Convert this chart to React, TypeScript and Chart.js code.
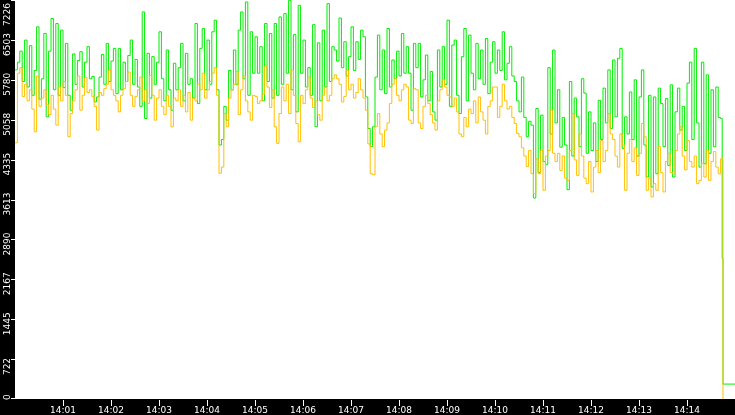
import { useEffect, useRef } from "react"
import { Chart, registerables } from "chart.js"

Chart.register(...registerables)

// one sample every 3 seconds starting at 14:00:00
const SAMPLE_SECONDS = 3

const greenValues = [
  5960, 6100, 6300, 5750, 6500, 5650, 6400, 5500, 5950, 6740, 5430, 5800, 6620, 5110, 6300, 6890, 5600,
  6800, 5500, 6680, 5640, 6440, 5500, 5230, 6250, 5700, 6130, 6290, 5650, 6100, 6380, 5800, 5840, 5380,
  5470, 5830, 6240, 5700, 6440, 5750, 6120, 6350, 5530, 6350, 5600, 6100, 5750, 6220, 6500, 5700, 6150,
  5650, 5300, 7010, 5080, 6260, 5450, 6200, 5700, 6100, 6650, 5800, 5400, 6320, 5600, 5230, 6080,
  5600, 6000, 6440, 5400, 6260, 5700, 5800, 5450, 6800, 5350, 6350, 6710, 5600, 6500, 5700, 6650, 6860,
  5600, 4600, 4700, 5300, 5050, 5950, 5600, 6320, 5700, 6680, 7010, 5800, 7190, 5500, 6650, 5900,
  6560, 5900, 6380, 5400, 6800, 5750, 6620, 5450, 6800, 5500, 6920, 5700, 6980, 5900, 7220, 5600, 6600,
  5200, 7130, 5900, 6500, 5650, 6000, 5500, 6780, 4930, 6450, 5400, 6680, 5650, 7160, 5750, 6380, 6320,
  6120, 6900, 6000, 6470, 5850, 6200, 6740, 5950, 6470, 6150, 6680, 6560, 5470, 4900, 4570, 4930, 5830,
  6590, 5600, 6320, 5530, 6710, 5650, 6140, 5800, 6300, 5850, 6620, 5900, 6380, 5900, 5230, 6440,
  6000, 6440, 5470, 5780, 6230, 5400, 5930, 5200, 5050, 6320, 5650, 6380, 5700, 6860, 5300, 6410, 6500,
  5500, 5170, 6200, 6710, 5400, 6590, 5900, 5600, 6440, 5800, 6320, 5700, 6530, 5530, 6100, 6470,
  5900, 6320, 5950, 6650, 5780, 6080, 6380, 5850, 5750, 5400, 5200, 5830, 5100, 4750, 5030, 4960, 3640,
  5260, 4100, 5140, 4300, 4250, 6000, 4800, 6320, 5000, 5600, 4560, 5100, 4600, 3790, 5750, 4400, 5450,
  5110, 4570, 5800, 5540, 4450, 5200, 4500, 5000, 4300, 5410, 4700, 5630, 5000, 5960, 4900, 6140, 5110,
  6170, 6350, 4540, 5110, 4800, 5560, 4700, 5780, 4400, 5470, 5960, 4600, 4020, 5500, 3840, 5470,
  4080, 5630, 5350, 4570, 5440, 4230, 5690, 4020, 5200, 5630, 4870, 5300, 4500, 5720, 6100, 4700, 6350,
  5000, 4200, 6100, 4260, 5870, 4450, 5600, 4570, 5650, 5100, 5080,
]

const orangeValues = [
  4640, 5900, 6000, 5480, 5700, 5400, 5600, 5250, 4840, 5850, 5300, 5450, 5600, 5330, 5150, 5500, 5250,
  4960, 5650, 5400, 5750, 5500, 4750, 5170, 5400, 5600, 5850, 5230, 5500, 5820, 5550, 5600, 5480, 5300,
  4870, 5550, 5500, 5620, 5700, 5950, 5600, 5500, 5400, 5200, 5500, 5620, 5750, 5920, 5500, 5300, 5480,
  5600, 5830, 5400, 5600, 5350, 5860, 5500, 5050, 5450, 5600, 5300, 5150, 5500, 5300, 4930, 5450,
  5400, 5600, 5300, 5500, 5200, 5550, 5050, 5450, 5400, 5700, 5600, 5900, 5450, 5600, 5750, 5900, 6000,
  5500, 4090, 4200, 5170, 4930, 5450, 5600, 5700, 5930, 5150, 5600, 5850, 5400, 5200, 5050, 5500,
  5480, 5350, 5400, 5520, 6020, 5650, 5280, 5600, 4930, 4630, 5170, 5650, 5400, 5700, 5170, 5960, 5500,
  4990, 4660, 5500, 5350, 5600, 5830, 5450, 5280, 5400, 5150, 5050, 5500, 5650, 5400, 5500, 5800, 5870,
  5800, 5700, 5380, 5480, 5950, 5600, 5700, 5450, 5550, 5800, 5600, 5450, 5230, 4620, 4080, 4060, 4930,
  5170, 4800, 4570, 4870, 5000, 5350, 5700, 5800, 5500, 5400, 5600, 5700, 5650, 5050, 4990, 5620,
  5600, 5000, 4900, 5300, 5500, 5350, 5150, 5000, 4870, 5400, 5600, 5780, 5650, 5500, 5470, 5300, 5450,
  5200, 4800, 4750, 5100, 4930, 5250, 5170, 5400, 5000, 5470, 5200, 5050, 4800, 5300, 5400, 5650,
  5650, 5100, 5300, 5700, 5400, 5250, 5300, 5100, 4990, 4810, 4750, 4550, 4400, 4210, 4500, 4080, 3720,
  4350, 4080, 4500, 3780, 4400, 4500, 5230, 4450, 4300, 4450, 4140, 4400, 4000, 3960, 4500, 5170, 4330,
  4050, 4800, 4400, 4000, 3900, 4300, 3750, 4200, 4500, 4100, 4680, 4300, 4500, 5170, 4800, 4700, 4400,
  4200, 4800, 4600, 3780, 4450, 4700, 4300, 4550, 4050, 4450, 4990, 4750, 3780, 4000, 3660, 3900,
  3780, 4570, 4100, 3750, 4300, 4450, 4100, 4080, 4500, 4800, 4930, 4400, 4150, 4680, 4300, 4200, 4400,
  3900, 3960, 4270, 4020, 4500, 3960, 4300, 4480, 4200, 4080, 4350,
]

// the feed stops at 14:14:45: [seconds, value]
const greenTail = [
  [884, 2550],
  [885, 270],
  [900, 270],
]
const orangeTail = [[885, 0]]

const minuteTicks = [60, 120, 180, 240, 300, 360, 420, 480, 540, 600, 660, 720, 780, 840]
const minuteLabels = [
  "14:01", "14:02", "14:03", "14:04", "14:05", "14:06", "14:07",
  "14:08", "14:09", "14:10", "14:11", "14:12", "14:13", "14:14",
]

const Y_MAX = 7226
const Y_STEPS = 10

const toPoints = (values: number[], tail: number[][]) =>
  values
    .map((v, i) => ({ x: i * SAMPLE_SECONDS, y: v }))
    .concat(tail.map(([x, y]) => ({ x, y })))

const framePlugin = {
  id: "frame",
  beforeDraw(chart: any) {
    const { ctx, chartArea, width, height } = chart
    ctx.save()
    ctx.fillStyle = "#000"
    ctx.fillRect(0, 0, width, height)
    ctx.fillStyle = "#fff"
    ctx.fillRect(chartArea.left, chartArea.top, chartArea.right - chartArea.left, chartArea.bottom - chartArea.top)
    ctx.restore()
  },
  afterDraw(chart: any) {
    const { ctx, scales } = chart
    ctx.save()
    ctx.fillStyle = "#fff"
    ctx.font = '9px "DejaVu Sans"'

    // y axis: ticks and rotated labels
    for (let k = 0; k <= Y_STEPS; k++) {
      const v = (Y_MAX * k) / Y_STEPS
      const y = scales.y.getPixelForValue(v)
      ctx.fillRect(11, Math.min(Math.round(y), 398), 4, 1)
      const label = String(Math.floor(v + 1e-6))
      const w = ctx.measureText(label).width
      let bottom = Math.min(y + 16, 400)
      if (bottom - w < 3) bottom = 3 + w
      ctx.save()
      ctx.translate(9.5, bottom)
      ctx.rotate(-Math.PI / 2)
      ctx.textAlign = "left"
      ctx.textBaseline = "alphabetic"
      ctx.fillText(label, 0, 0)
      ctx.restore()
    }

    // x axis: minute ticks
    ctx.textAlign = "center"
    ctx.textBaseline = "alphabetic"
    minuteTicks.forEach((t, i) => {
      const x = scales.x.getPixelForValue(t)
      ctx.fillRect(Math.round(x), 400, 1, 6)
      ctx.fillText(minuteLabels[i], x, 413)
    })
    ctx.restore()
  },
}

export default function App() {
  const chartRef = useRef<HTMLCanvasElement>(null)
  const chartInstance = useRef<Chart | null>(null)

  useEffect(() => {
    if (!chartRef.current) return
    if (chartInstance.current) chartInstance.current.destroy()
    const ctx = chartRef.current.getContext("2d")
    if (!ctx) return

    chartInstance.current = new Chart(ctx, {
      type: "line",
      data: {
        datasets: [
          {
            data: toPoints(orangeValues, orangeTail),
            borderColor: "#ffc000",
            borderWidth: 1,
            pointRadius: 0,
            stepped: true,
            fill: false,
          },
          {
            data: toPoints(greenValues, greenTail),
            borderColor: "#00ee00",
            borderWidth: 1,
            pointRadius: 0,
            stepped: true,
            fill: false,
          },
        ],
      },
      options: {
        animation: false,
        responsive: true,
        maintainAspectRatio: false,
        devicePixelRatio: 1,
        layout: { padding: { left: 15, right: 0, top: 0, bottom: 16 } },
        plugins: { legend: { display: false }, tooltip: { enabled: false } },
        scales: {
          x: { type: "linear", min: 0, max: 900, display: false },
          y: { min: 0, max: Y_MAX, display: false },
        },
      },
      plugins: [framePlugin],
    })

    return () => {
      if (chartInstance.current) {
        chartInstance.current.destroy()
        chartInstance.current = null
      }
    }
  }, [])

  return (
    <div style={{ position: "fixed", left: 0, top: 0, width: 735, height: 415, background: "#000" }}>
      <canvas ref={chartRef} />
    </div>
  )
}
